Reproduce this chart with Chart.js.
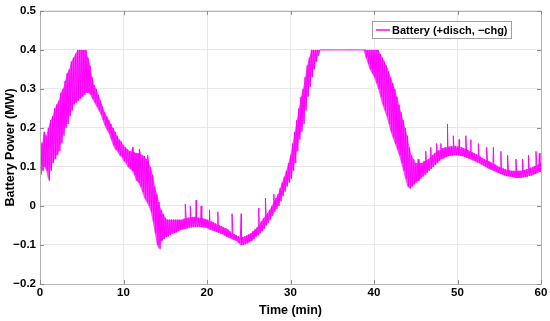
<!DOCTYPE html>
<html>
<head>
<meta charset="utf-8">
<script src="https://cdn.jsdelivr.net/npm/chart.js@4.4.1/dist/chart.umd.min.js"></script>
<style>
html,body{margin:0;padding:0;background:#fff;}
#wrap{width:550px;height:321px;position:relative;}
</style>
</head>
<body>
<div id="wrap"><canvas id="c" width="550" height="321"></canvas></div>
<script>
// Sample step of the envelope readings (minutes)
const STEP = 0.25;
// Upper envelope of the noisy band, read every 0.25 min from 0 to 60
const upperMW = [
0.17,0.16,0.19,0.18, 0.20,0.22,0.23,0.25, 0.26,0.27,0.29,0.30, 0.32,0.34,0.35,0.37,
0.38,0.39,0.40,0.40, 0.40,0.40,0.40,0.38, 0.36,0.33,0.31,0.30, 0.285,0.27,0.255,0.24,
0.23,0.22,0.21,0.20, 0.19,0.18,0.17,0.165, 0.155,0.15,0.145,0.14, 0.14,0.138,0.136,0.135,
0.135,0.13,0.128,0.12, 0.11,0.10,0.08,0.05, 0.03,0.01,-0.01,-0.02, -0.03,-0.035,-0.035,-0.035,
-0.035,-0.035,-0.035,-0.035, -0.035,-0.033,-0.03,-0.03, -0.028,-0.028,-0.028,-0.028, -0.03,-0.03,-0.032,-0.033,
-0.035,-0.037,-0.04,-0.042, -0.045,-0.047,-0.05,-0.052, -0.055,-0.057,-0.06,-0.065, -0.07,-0.072,-0.075,-0.078,
-0.08,-0.08,-0.078,-0.076, -0.073,-0.07,-0.065,-0.06, -0.055,-0.048,-0.04,-0.032, -0.025,-0.018,-0.01,0.0,
0.01,0.02,0.03,0.045, 0.06,0.075,0.09,0.11, 0.13,0.16,0.19,0.22, 0.25,0.28,0.30,0.33,
0.36,0.38,0.40,0.40, 0.40,0.40,0.40,0.40, 0.40,0.40,0.40,0.40, 0.40,0.40,0.40,0.40,
0.40,0.40,0.40,0.40, 0.40,0.40,0.40,0.40, 0.40,0.40,0.40,0.40, 0.40,0.40,0.40,0.40,
0.40,0.40,0.40,0.39, 0.38,0.37,0.36,0.345, 0.33,0.315,0.30,0.28, 0.26,0.24,0.22,0.20,
0.18,0.15,0.13,0.12, 0.11,0.11,0.11,0.11, 0.115,0.117,0.12,0.125, 0.13,0.135,0.14,0.142,
0.145,0.148,0.15,0.151, 0.152,0.153,0.153,0.153, 0.152,0.151,0.15,0.148, 0.146,0.143,0.14,0.138,
0.135,0.132,0.13,0.126, 0.123,0.12,0.118,0.115, 0.112,0.109,0.106,0.103, 0.10,0.098,0.096,0.094,
0.093,0.091,0.09,0.09, 0.09,0.09,0.09,0.091, 0.092,0.094,0.096,0.098, 0.10,0.102,0.105,0.108,
0.11
];
// Lower envelope of the noisy band, read every 0.25 min from 0 to 60
const lowerMW = [
0.08,0.09,0.10,0.09, 0.065,0.09,0.11,0.12, 0.13,0.14,0.16,0.18, 0.20,0.21,0.23,0.245,
0.26,0.265,0.27,0.275, 0.28,0.285,0.29,0.29, 0.285,0.275,0.265,0.255, 0.245,0.235,0.22,0.205,
0.195,0.185,0.17,0.155, 0.145,0.14,0.13,0.125, 0.115,0.11,0.10,0.095, 0.09,0.08,0.065,0.06,
0.05,0.035,0.02,0.01, 0.0,-0.015,-0.04,-0.07, -0.10,-0.11,-0.09,-0.085, -0.08,-0.078,-0.075,-0.072,
-0.07,-0.068,-0.065,-0.062, -0.06,-0.059,-0.058,-0.056, -0.055,-0.054,-0.053,-0.053, -0.053,-0.054,-0.055,-0.056,
-0.057,-0.06,-0.062,-0.064, -0.066,-0.068,-0.07,-0.072, -0.075,-0.078,-0.08,-0.083, -0.085,-0.088,-0.09,-0.095,
-0.10,-0.10,-0.098,-0.096, -0.093,-0.09,-0.085,-0.08, -0.075,-0.07,-0.065,-0.058, -0.05,-0.043,-0.035,-0.025,
-0.015,-0.008,0.0,0.012, 0.025,0.037,0.05,0.06, 0.07,0.09,0.11,0.14, 0.17,0.19,0.21,0.245,
0.28,0.305,0.33,0.35, 0.37,0.385,0.40,0.40, 0.40,0.40,0.40,0.40, 0.40,0.40,0.40,0.40,
0.40,0.40,0.40,0.40, 0.40,0.40,0.40,0.40, 0.40,0.40,0.40,0.40, 0.38,0.365,0.35,0.34,
0.33,0.315,0.30,0.28, 0.26,0.245,0.23,0.21, 0.19,0.175,0.16,0.145, 0.13,0.11,0.09,0.07,
0.05,0.045,0.05,0.055, 0.06,0.065,0.07,0.075, 0.08,0.085,0.09,0.095, 0.10,0.105,0.11,0.115,
0.12,0.122,0.125,0.127, 0.128,0.129,0.13,0.13, 0.13,0.129,0.128,0.126, 0.124,0.122,0.12,0.117,
0.115,0.112,0.11,0.107, 0.104,0.101,0.098,0.095, 0.093,0.09,0.088,0.085, 0.083,0.081,0.079,0.077,
0.076,0.075,0.074,0.073, 0.072,0.072,0.072,0.073, 0.074,0.075,0.077,0.078, 0.08,0.082,0.085,0.087,
0.09
];
// Isolated upward spikes (time in min, value in MW)
const spikeTimes = [11.1,11.9,12.9,17.4,18.0,18.7,19.3,20.3,21.3,23.0,24.1,26.2,27.0,28.0,
  45.3,46.2,46.8,47.5,48.0,48.8,49.5,50.2,51.0,51.6,52.5,53.5,54.3,55.2,56.0,57.0,57.8,58.5,59.4,59.8];
const spikeValues = [0.15,0.146,0.13,0.005,0.0,0.015,0.0,-0.01,-0.015,-0.02,-0.02,-0.005,0.02,0.03,
  0.12,0.14,0.15,0.16,0.16,0.21,0.18,0.17,0.18,0.17,0.16,0.15,0.15,0.14,0.13,0.12,0.12,0.13,0.14,0.135];

const xTickValues = [0,10,20,30,40,50,60];
const xTickLabels = ['0','10','20','30','40','50','60'];
const yTickValues = [-0.2,-0.1,0,0.1,0.2,0.3,0.4,0.5];
const yTickLabels = ['\u22120.2','\u22120.1','0','0.1','0.2','0.3','0.4','0.5'];
const seriesLabel = 'Battery (+disch, \u2212chg)';

// Build the zig-zag trace from the envelope readings
const pts = [];
for (let i = 0; i < upperMW.length; i++) {
  const t = i * STEP;
  pts.push({x: t, y: upperMW[i]});
  pts.push({x: i === upperMW.length - 1 ? t : t + STEP / 2, y: lowerMW[i]});
}
for (let k = 0; k < spikeTimes.length; k++) pts.push({x: spikeTimes[k], y: spikeValues[k]});
pts.sort((a, b) => a.x - b.x);
const upperPts = upperMW.map((v, i) => ({x: i * STEP, y: v}));
const lowerPts = lowerMW.map((v, i) => ({x: i * STEP, y: v}));

const FONT = '"Liberation Sans", Arial, Helvetica, sans-serif';

const framePlugin = {
  id: 'frame',
  afterDatasetsDraw(chart) {
    const {ctx, chartArea: a, scales} = chart;
    ctx.save();
    ctx.strokeStyle = '#b5b5b5';
    ctx.lineWidth = 1;
    ctx.strokeRect(Math.round(a.left) + 0.5, Math.round(a.top) + 0.5, Math.round(a.right - a.left), Math.round(a.bottom - a.top));
    ctx.strokeStyle = '#8c8c8c';
    ctx.beginPath();
    xTickValues.forEach(v => {
      const x = Math.round(scales.x.getPixelForValue(v)) + 0.5;
      ctx.moveTo(x, a.bottom); ctx.lineTo(x, a.bottom - 4);
      ctx.moveTo(x, a.top); ctx.lineTo(x, a.top + 4);
    });
    yTickValues.forEach(v => {
      const y = Math.round(scales.y.getPixelForValue(v)) + 0.5;
      ctx.moveTo(a.left, y); ctx.lineTo(a.left + 4, y);
      ctx.moveTo(a.right, y); ctx.lineTo(a.right - 4, y);
    });
    ctx.stroke();
    // legend
    const lx = 372, ly = 21, lw = 139, lh = 17;
    ctx.fillStyle = '#fff';
    ctx.fillRect(lx, ly, lw, lh);
    ctx.strokeStyle = '#a0a0a0';
    ctx.strokeRect(lx + 0.5, ly + 0.5, lw, lh);
    ctx.strokeStyle = '#ff00ff';
    ctx.lineWidth = 1.5;
    ctx.beginPath();
    ctx.moveTo(lx + 4, ly + 9); ctx.lineTo(lx + 18, ly + 9);
    ctx.stroke();
    ctx.fillStyle = '#000';
    ctx.font = 'bold 11px ' + FONT;
    ctx.textBaseline = 'middle';
    ctx.fillText(seriesLabel, lx + 20, ly + 9.5);
    ctx.restore();
  }
};

new Chart(document.getElementById('c'), {
  type: 'line',
  data: {
    datasets: [
      {
        label: 'upper',
        data: upperPts,
        borderWidth: 0,
        borderColor: 'rgba(0,0,0,0)',
        backgroundColor: 'rgba(255,0,255,0.72)',
        pointRadius: 0,
        tension: 0,
        fill: '+1'
      },
      {
        label: 'lower',
        data: lowerPts,
        borderWidth: 0,
        borderColor: 'rgba(0,0,0,0)',
        pointRadius: 0,
        tension: 0,
        fill: false
      },
      {
        label: seriesLabel,
        data: pts,
        borderColor: '#ff00ff',
        borderWidth: 1,
        pointRadius: 0,
        tension: 0,
        fill: false
      }
    ]
  },
  options: {
    responsive: false,
    animation: false,
    events: [],
    layout: {padding: {top: 9, right: 9, left: 0, bottom: 0}},
    plugins: {legend: {display: false}, tooltip: {enabled: false}},
    scales: {
      x: {
        type: 'linear', min: 0, max: 60,
        afterBuildTicks(s) { s.ticks = xTickValues.map(v => ({value: v})); },
        afterFit(s) { s.height = 37; },
        ticks: {
          callback: (v) => xTickLabels[xTickValues.indexOf(v)],
          color: '#000', font: {family: FONT, size: 11.5, weight: 'bold'}, padding: 2, maxRotation: 0
        },
        grid: {color: '#e8e8e8', drawTicks: false},
        border: {display: false},
        title: {display: true, text: 'Time (min)', color: '#000', font: {family: FONT, size: 12.5, weight: 'bold'}, padding: {top: 0, bottom: 3}}
      },
      y: {
        type: 'linear', min: -0.2, max: 0.5,
        afterBuildTicks(s) { s.ticks = yTickValues.map(v => ({value: v})); },
        afterFit(s) { s.width = 40; },
        ticks: {
          callback: (v) => { const i = yTickValues.findIndex(q => Math.abs(q - v) < 1e-9); return yTickLabels[i]; },
          color: '#000', font: {family: FONT, size: 11.5, weight: 'bold'}, padding: 4
        },
        grid: {color: '#e8e8e8', drawTicks: false},
        border: {display: false},
        title: {display: true, text: 'Battery Power (MW)', color: '#000', font: {family: FONT, size: 12.5, weight: 'bold'}, padding: {top: 3, bottom: 0}}
      }
    }
  },
  plugins: [framePlugin]
});
</script>
</body>
</html>
